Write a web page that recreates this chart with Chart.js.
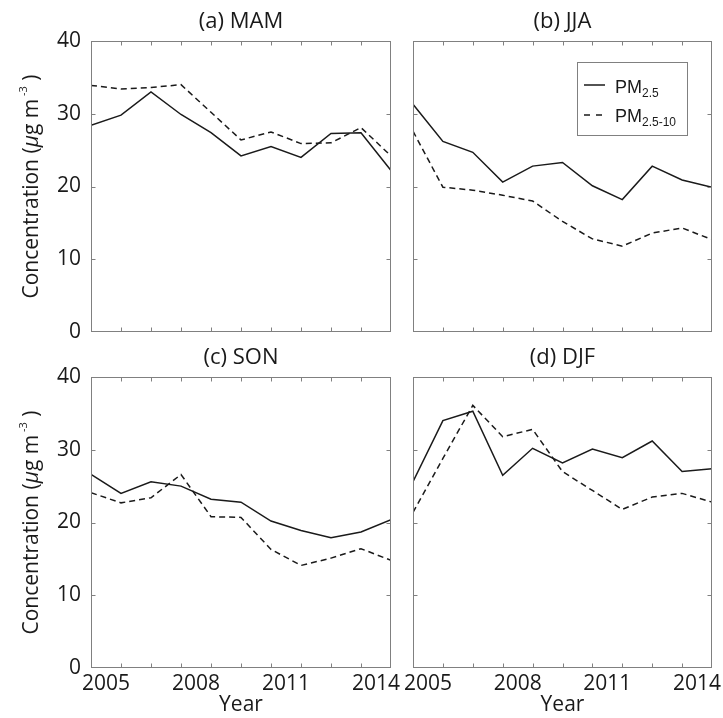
<!DOCTYPE html>
<html>
<head>
<meta charset="utf-8">
<script src="https://cdn.jsdelivr.net/npm/chart.js@4.4.1/dist/chart.umd.min.js"></script>
<style>
html,body{margin:0;padding:0;background:#ffffff;}
#wrap{position:relative;width:723px;height:718px;overflow:hidden;}
#wrap canvas{position:absolute;left:0;top:0;}
</style>
</head>
<body>
<div id="wrap">
<canvas id="cA" width="723" height="718"></canvas>
<canvas id="cB" width="723" height="718"></canvas>
<canvas id="cC" width="723" height="718"></canvas>
<canvas id="cD" width="723" height="718"></canvas>
</div>
<script>
// ---------- data ----------
const yearPos = [2004.5, 2005.5, 2006.5, 2007.5, 2008.5, 2009.5, 2010.5, 2011.5, 2012.5, 2013.5, 2014.5];
const tickYears = [2005, 2008, 2011, 2014];
const yTickValues = [0, 10, 20, 30, 40];
const seasonTitles = ['(a) MAM', '(b) JJA', '(c) SON', '(d) DJF'];
const xTitle = 'Year';

const mamPM25   = [28.4, 29.8, 33.0, 29.9, 27.4, 24.2, 25.5, 24.0, 27.3, 27.4, 22.2];
const mamPM2510 = [33.9, 33.4, 33.6, 34.0, 30.2, 26.4, 27.5, 25.9, 26.0, 28.1, 24.2];
const jjaPM25   = [31.3, 26.2, 24.7, 20.6, 22.8, 23.3, 20.1, 18.2, 22.8, 20.9, 19.9];
const jjaPM2510 = [27.6, 19.9, 19.5, 18.8, 18.0, 15.2, 12.8, 11.8, 13.6, 14.3, 12.7];
const sonPM25   = [26.6, 24.0, 25.6, 25.0, 23.2, 22.8, 20.2, 18.9, 17.9, 18.7, 20.4];
const sonPM2510 = [24.1, 22.7, 23.4, 26.6, 20.8, 20.7, 16.3, 14.1, 15.1, 16.4, 14.8];
const djfPM25   = [25.6, 34.0, 35.3, 26.5, 30.2, 28.2, 30.1, 28.9, 31.2, 27.0, 27.4];
const djfPM2510 = [21.4, 28.8, 36.1, 31.8, 32.8, 27.0, 24.4, 21.8, 23.5, 24.0, 22.8];

// ---------- style ----------
const FONT = "'Open Sans', 'Noto Sans', sans-serif";
const LEG_FONT = "'Liberation Sans', Arial, sans-serif";
const INK = '#1a1a1a';
const FRAME = '#808080';
const W = 723, H = 718;
const TITLE_SIZE = 22;
const TITLE_PAD = {top: 8, bottom: 6.4};
const TITLE_H = TITLE_SIZE * 1.2 + TITLE_PAD.top + TITLE_PAD.bottom;

const panels = [
  {id:'cA', title:seasonTitles[0], fine:mamPM25, coarse:mamPM2510, area:{l:91, t:41,  r:391, b:332}, left:true,  bottom:false, legend:false},
  {id:'cB', title:seasonTitles[1], fine:jjaPM25, coarse:jjaPM2510, area:{l:413,t:41,  r:712, b:332}, left:false, bottom:false, legend:true},
  {id:'cC', title:seasonTitles[2], fine:sonPM25, coarse:sonPM2510, area:{l:91, t:377, r:391, b:668}, left:true,  bottom:true,  legend:false},
  {id:'cD', title:seasonTitles[3], fine:djfPM25, coarse:djfPM2510, area:{l:413,t:377, r:712, b:668}, left:false, bottom:true,  legend:false}
];

// frame + inner minor ticks
const framePlugin = {
  id: 'frame',
  afterDatasetsDraw(chart) {
    const {ctx, chartArea: a, scales: {x, y}} = chart;
    ctx.save();
    ctx.strokeStyle = FRAME;
    ctx.lineWidth = 1;
    const L = Math.round(a.left) + 0.5, R = Math.round(a.right) - 0.5;
    const T = Math.round(a.top) + 0.5, B = Math.round(a.bottom) - 0.5;
    ctx.strokeRect(L, T, R - L, B - T);
    const tl = 4;
    ctx.beginPath();
    for (let i = 1; i < yearPos.length - 1; i++) {
      const px = Math.round(x.getPixelForValue(yearPos[i])) + 0.5;
      ctx.moveTo(px, B); ctx.lineTo(px, B - tl);
      ctx.moveTo(px, T); ctx.lineTo(px, T + tl);
    }
    for (let j = 1; j < yTickValues.length - 1; j++) {
      const py = Math.round(y.getPixelForValue(yTickValues[j])) + 0.5;
      ctx.moveTo(L, py); ctx.lineTo(L + tl, py);
      ctx.moveTo(R, py); ctx.lineTo(R - tl, py);
    }
    ctx.stroke();
    ctx.restore();
  }
};

// rotated y title with italic mu and superscript
const yTitlePlugin = {
  id: 'ytitle',
  afterDraw(chart, args, opts) {
    if (!opts.show) return;
    const {ctx, chartArea: a} = chart;
    const cy = (a.top + a.bottom) / 2;
    const parts = [
      {t: 'Concentration (', f: `21px ${FONT}`, dy: 0},
      {t: '\u03bc', f: `italic 21px ${FONT}`, dy: 0},
      {t: 'g m', f: `21px ${FONT}`, dy: 0},
      {t: ' -3', f: `11px ${FONT}`, dy: -11},
      {t: ' )', f: `21px ${FONT}`, dy: 0}
    ];
    ctx.save();
    ctx.translate(opts.x, cy);
    ctx.rotate(-Math.PI / 2);
    ctx.fillStyle = INK;
    ctx.textBaseline = 'alphabetic';
    ctx.textAlign = 'left';
    let total = 0;
    parts.forEach(p => { ctx.font = p.f; p.w = ctx.measureText(p.t).width; total += p.w; });
    let cx = -total / 2;
    parts.forEach(p => { ctx.font = p.f; ctx.fillText(p.t, cx, p.dy); cx += p.w; });
    ctx.restore();
  }
};

// legend with subscripts
const legendPlugin = {
  id: 'pmLegend',
  afterDraw(chart, args, opts) {
    if (!opts.show) return;
    const {ctx} = chart;
    ctx.save();
    ctx.fillStyle = '#ffffff';
    ctx.fillRect(577, 62, 110, 73);
    ctx.strokeStyle = FRAME;
    ctx.lineWidth = 1;
    ctx.strokeRect(577.5, 62.5, 110, 73);
    ctx.strokeStyle = INK;
    ctx.lineWidth = 1.5;
    ctx.beginPath(); ctx.moveTo(584, 85); ctx.lineTo(605, 85); ctx.stroke();
    ctx.setLineDash([6, 6]);
    ctx.beginPath(); ctx.moveTo(584, 115); ctx.lineTo(603, 115); ctx.stroke();
    ctx.setLineDash([]);
    ctx.fillStyle = INK;
    ctx.textBaseline = 'alphabetic';
    const rows = [{main:'PM', sub:'2.5', y:93}, {main:'PM', sub:'2.5-10', y:122}];
    rows.forEach(r => {
      ctx.font = `18px ${LEG_FONT}`;
      ctx.fillText(r.main, 615, r.y);
      const w = ctx.measureText(r.main).width;
      ctx.font = `12px ${LEG_FONT}`;
      ctx.fillText(r.sub, 615 + w, r.y + 4);
    });
    ctx.restore();
  }
};

panels.forEach(p => {
  const yW = p.left ? 91 : 20;
  const xH = p.bottom ? 50 : 0;
  const padding = {
    left: p.area.l - yW,
    top: p.area.t - TITLE_H,
    right: W - p.area.r,
    bottom: H - p.area.b - xH
  };
  new Chart(document.getElementById(p.id), {
    type: 'line',
    data: {
      datasets: [
        {label: 'PM2.5', data: yearPos.map((x, i) => ({x, y: p.fine[i]})),
         borderColor: INK, borderWidth: 1.5, pointRadius: 0, tension: 0, fill: false},
        {label: 'PM2.5-10', data: yearPos.map((x, i) => ({x, y: p.coarse[i]})),
         borderColor: INK, borderWidth: 1.5, borderDash: [6, 4], pointRadius: 0, tension: 0, fill: false}
      ]
    },
    options: {
      responsive: false,
      animation: false,
      devicePixelRatio: 1,
      layout: {padding},
      plugins: {
        legend: {display: false},
        tooltip: {enabled: false},
        title: {display: true, text: p.title, fullSize: false, color: INK,
                font: {family: FONT, size: TITLE_SIZE, weight: 'normal', lineHeight: 1.2},
                padding: TITLE_PAD},
        ytitle: {show: p.left, x: 38},
        pmLegend: {show: p.legend}
      },
      scales: {
        x: {
          type: 'linear', min: 2004.5, max: 2014.5,
          afterBuildTicks: s => { s.ticks = tickYears.map(v => ({value: v})); },
          afterFit: s => { s.height = xH; s.paddingLeft = 0; s.paddingRight = 0; },
          grid: {display: false, drawTicks: false},
          border: {display: false},
          ticks: {display: p.bottom, autoSkip: false, maxRotation: 0, minRotation: 0, padding: 3,
                  color: INK, font: {family: FONT, size: 21}, callback: v => String(v)},
          title: {display: p.bottom, text: xTitle, color: INK, font: {family: FONT, size: 21},
                  padding: {top: 0, bottom: 0}}
        },
        y: {
          type: 'linear', min: 0, max: 40,
          afterBuildTicks: s => { s.ticks = yTickValues.map(v => ({value: v})); },
          afterFit: s => { s.width = yW; s.paddingTop = 0; s.paddingBottom = 0; },
          grid: {display: false, drawTicks: false},
          border: {display: false},
          ticks: {display: p.left, padding: 10, color: INK, font: {family: FONT, size: 21}}
        }
      }
    },
    plugins: [framePlugin, yTitlePlugin, legendPlugin]
  });
});
</script>
</body>
</html>
